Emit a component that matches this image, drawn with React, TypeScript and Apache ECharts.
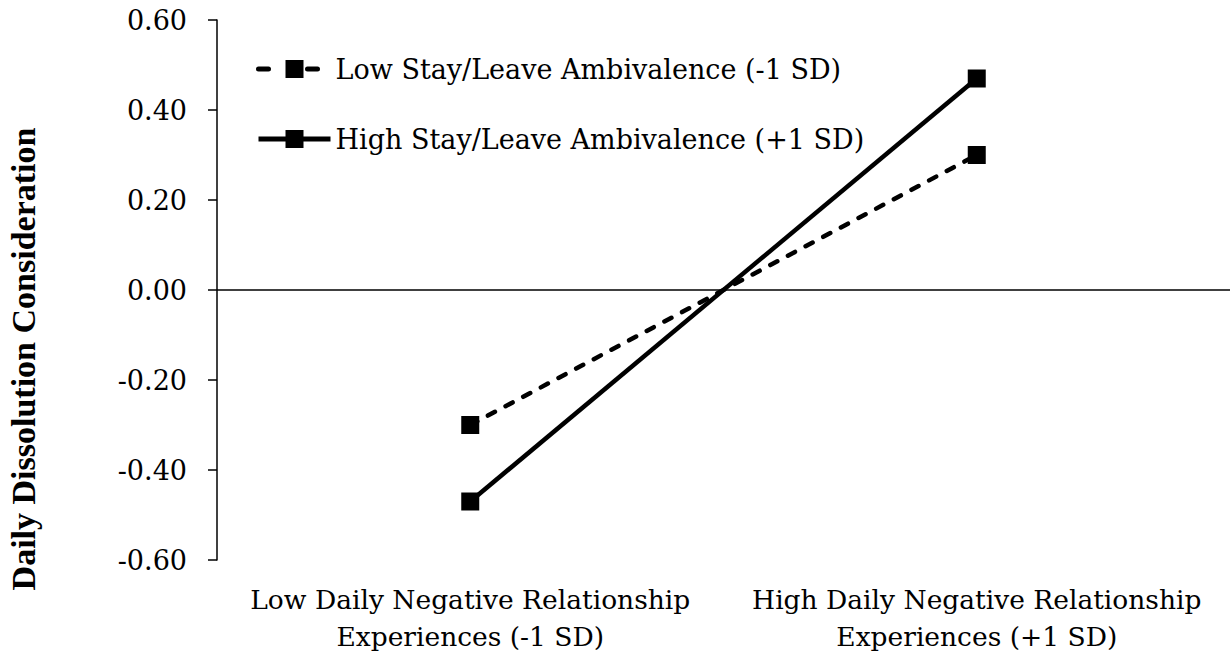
import React, { useEffect, useRef } from "react";
import * as echarts from "echarts";

const categories = [
  "Low Daily Negative Relationship\nExperiences (-1 SD)",
  "High Daily Negative Relationship\nExperiences (+1 SD)",
];
const lowAmbivalence = [-0.3, 0.3];
const highAmbivalence = [-0.47, 0.47];
const seriesNames = [
  "Low Stay/Leave Ambivalence (-1 SD)",
  "High Stay/Leave Ambivalence (+1 SD)",
];
const yTitle = "Daily Dissolution Consideration";

const FONT = "DejaVu Serif";
const TITLE_FONT = "Liberation Serif";

export default function App() {
  const ref = useRef<HTMLDivElement>(null);
  useEffect(() => {
    if (!ref.current) return;
    const chart = echarts.init(ref.current, undefined, { renderer: "svg" });
    chart.setOption({
      animation: false,
      backgroundColor: "#ffffff",
      grid: { left: 217, right: 0, top: 20, bottom: 97, containLabel: false },
      legend: {
        orient: "vertical",
        left: 251,
        top: 49,
        itemWidth: 72,
        itemHeight: 22.5,
        itemGap: 40,
        textStyle: { fontFamily: FONT, fontSize: 27, color: "#000", lineHeight: 30 },
        data: [
          {
            name: seriesNames[0],
            lineStyle: { width: 5, type: [10, 39], cap: "round", color: "#000" },
          },
          {
            name: seriesNames[1],
            lineStyle: { width: 5, type: "solid", color: "#000" },
          },
        ],
      },
      xAxis: {
        type: "category",
        data: categories,
        axisLine: { show: false, onZero: false },
        axisTick: { show: false },
        axisLabel: {
          fontFamily: FONT,
          fontSize: 26.5,
          color: "#000",
          lineHeight: 37,
          margin: 21,
          interval: 0,
        },
      },
      yAxis: {
        type: "value",
        min: -0.6,
        max: 0.6,
        interval: 0.2,
        splitLine: { show: false },
        axisLine: { show: true, lineStyle: { color: "#000", width: 1.5 } },
        axisTick: { show: true, length: 9, lineStyle: { color: "#000", width: 1.5 } },
        axisLabel: {
          fontFamily: FONT,
          fontSize: 27,
          color: "#000",
          margin: 30,
          formatter: (v: number) => v.toFixed(2),
        },
      },
      graphic: [
        {
          type: "text",
          x: 23,
          y: 359,
          rotation: Math.PI / 2,
          style: {
            text: yTitle,
            fontFamily: TITLE_FONT,
            fontWeight: "bold",
            fontSize: 34,
            fill: "#000",
            align: "center",
            verticalAlign: "middle",
          },
        },
      ],
      series: [
        {
          name: seriesNames[0],
          type: "line",
          data: lowAmbivalence,
          symbol: "rect",
          symbolSize: 18,
          itemStyle: { color: "#000" },
          lineStyle: { color: "#000", width: 4.5, type: [8, 12], cap: "round" },
          markLine: {
            silent: true,
            symbol: "none",
            label: { show: false },
            lineStyle: { color: "#000", width: 1.5, type: "solid" },
            data: [{ yAxis: 0 }],
          },
          z: 3,
        },
        {
          name: seriesNames[1],
          type: "line",
          data: highAmbivalence,
          symbol: "rect",
          symbolSize: 18,
          itemStyle: { color: "#000" },
          lineStyle: { color: "#000", width: 4.5, type: "solid" },
          z: 3,
        },
      ],
    });
    return () => chart.dispose();
  }, []);
  return (
    <div
      ref={ref}
      style={{ position: "fixed", left: 0, top: 0, width: 1230, height: 657, background: "#fff" }}
    />
  );
}
